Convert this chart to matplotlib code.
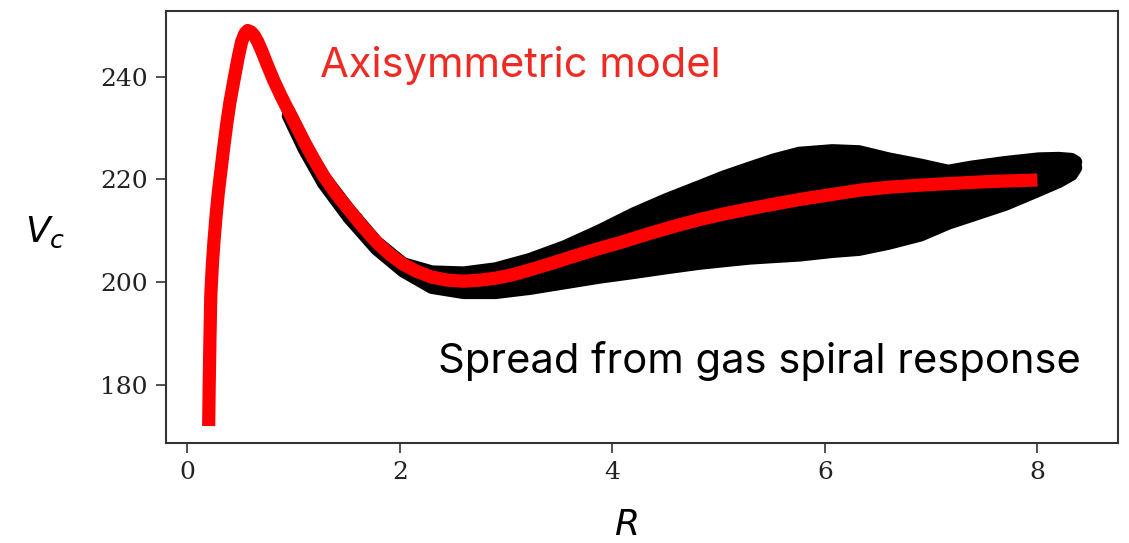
import matplotlib
matplotlib.use("Agg")
import matplotlib.pyplot as plt

# axisymmetric rotation curve
r_model = [0.200, 0.205, 0.212, 0.220, 0.235, 0.25, 0.27, 0.29, 0.31, 0.34, 0.37, 0.40, 0.44,
           0.48, 0.51, 0.54, 0.567, 0.60, 0.63, 0.66, 0.70, 0.75, 0.81, 0.88, 0.95, 1.03,
           1.106, 1.19, 1.285, 1.40, 1.52, 1.65, 1.78, 1.90, 2.03, 2.16, 2.30, 2.45, 2.60, 2.75,
           2.90, 3.05, 3.22, 3.40, 3.55, 3.69, 3.88, 4.07, 4.35, 4.60, 4.82, 5.05, 5.29, 5.52,
           5.76, 6.07, 6.32, 6.60, 6.90, 7.16, 7.54, 8.00]
v_model = [172.0, 180.0, 189.0, 197.5, 203.5, 208.0, 213.0, 217.3, 220.8, 226.0, 230.8, 235.0, 239.6,
           244.0, 246.8, 248.4, 249.0, 248.7, 248.0, 246.9, 245.0, 242.4, 239.4, 236.3, 233.4, 230.2,
           227.1, 223.9, 220.6, 217.2, 214.1, 210.8, 207.8, 205.5, 203.5, 202.1, 201.0, 200.4, 200.2, 200.4,
           200.8, 201.4, 202.4, 203.5, 204.5, 205.4, 206.6, 207.7, 209.5, 211.0, 212.2, 213.3, 214.3, 215.2,
           216.1, 217.1, 217.9, 218.5, 218.9, 219.2, 219.6, 219.9]

# envelope of the gas spiral response
r_spread = [0.95, 1.10, 1.28, 1.52, 1.78, 2.03, 2.30, 2.60, 2.90, 3.22, 3.55, 3.88, 4.20, 4.50,
            4.82, 5.05, 5.29, 5.52, 5.76, 6.07, 6.32, 6.60, 6.90, 7.16, 7.38, 7.70, 8.01, 8.20,
            8.32, 8.36]
v_upper = [233.4, 227.1, 220.6, 214.1, 207.8, 203.6, 202.0, 201.8, 202.6, 204.4, 206.9, 210.0, 213.3, 216.0,
           218.6, 220.5, 222.2, 223.8, 225.1, 225.6, 225.4, 224.0, 222.8, 221.6, 222.4, 223.3, 224.0, 224.1,
           223.9, 223.4]
v_lower = [232.4, 225.9, 219.3, 212.6, 206.5, 202.2, 199.0, 198.0, 198.0, 198.8, 199.9, 201.0, 201.9, 202.8,
           203.7, 204.2, 204.7, 205.0, 205.3, 206.0, 206.4, 207.6, 209.2, 211.5, 213.0, 215.2, 217.9, 219.6,
           221.0, 222.3]

x_ticks = [0, 2, 4, 6, 8]
y_ticks = [180, 200, 220, 240]

fig = plt.figure(figsize=(11.29, 5.43), dpi=100)
ax = fig.add_axes([0.147, 0.1847, 0.8432, 0.7956])

lw = 9.5
ax.fill_between(r_spread, v_lower, v_upper, color="black", lw=0)
for edge in (v_upper, v_lower):
    ax.plot(r_spread, edge, color="black", lw=lw,
            solid_capstyle="round", solid_joinstyle="round")
ax.plot(r_model, v_model, color="red", lw=lw,
        solid_capstyle="butt", solid_joinstyle="round")

ax.set_xlim(-0.202, 8.758)
ax.set_ylim(168.76, 252.86)
ax.set_xticks(x_ticks)
ax.set_yticks(y_ticks)
ax.tick_params(length=7, width=1.2, color="#333333", pad=6,
               labelsize=18, labelcolor="#222222", labelfontfamily="DejaVu Serif")
for s in ax.spines.values():
    s.set_linewidth(1.5)
    s.set_color("#333333")

ax.text(1.247, 239.9, "Axisymmetric model", color="#ee2a22", fontsize=30,
        family="Inter", va="baseline", ha="left")
ax.text(2.358, 182.3, "Spread from gas spiral response", color="black", fontsize=30,
        family="Inter", va="baseline", ha="left")

fig.text(45 / 1129, 1 - 232 / 543, "$\\mathit{V_c}$", fontsize=26, ha="center", va="center")
fig.text(626 / 1129, 1 - 525 / 543, "$\\mathit{R}$", fontsize=26, ha="center", va="center")

fig.savefig("out.png", dpi=100)
